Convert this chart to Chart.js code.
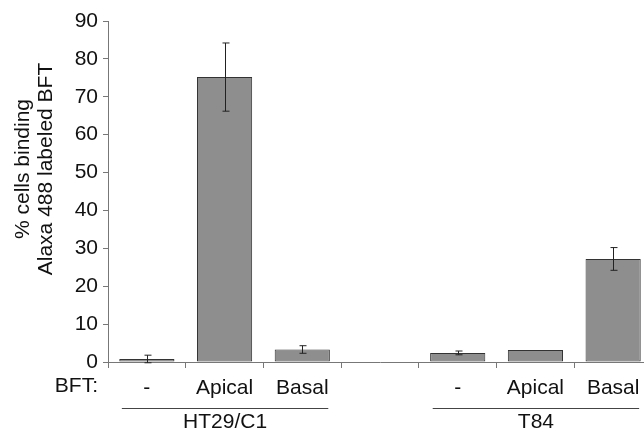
<!DOCTYPE html>
<html>
<head>
<meta charset="utf-8">
<script src="https://cdn.jsdelivr.net/npm/chart.js@4"></script>
<style>
  html, body { margin: 0; padding: 0; background: #fff; overflow: hidden; }
  #wrap { width: 660px; height: 430px; position: relative; }
</style>
</head>
<body>
<div id="wrap"><canvas id="chart"></canvas></div>
<script>
// Data
const categories = ['-', 'Apical', 'Basal', '', '-', 'Apical', 'Basal'];
const values = [0.8, 75.2, 3.3, null, 2.4, 3.2, 27.2];
const errors = [1.0, 9.0, 1.0, null, 0.5, 0, 3.0];
const yTicks = [0, 10, 20, 30, 40, 50, 60, 70, 80, 90];
const groups = [
    { name: 'HT29/C1', from: 0, to: 2 },
    { name: 'T84', from: 4, to: 6 }
];
const yTitle = ['% cells binding', 'Alaxa 488 labeled BFT'];

const FONT = 'Liberation Sans, Arial, Helvetica, sans-serif';
const AXIS = '#777';

// error bars drawn from the scales
const errorBars = {
    id: 'errorBars',
    afterDatasetsDraw(chart) {
        const ctx = chart.ctx;
        const y = chart.scales.y;
        const meta = chart.getDatasetMeta(0);
        ctx.save();
        ctx.strokeStyle = '#222';
        ctx.lineWidth = 1;
        values.forEach((v, i) => {
            const e = errors[i];
            if (v === null || !e) return;
            const x = Math.round(meta.data[i].x) + 0.5;
            const top = y.getPixelForValue(v + e);
            const bot = y.getPixelForValue(v - e);
            ctx.beginPath();
            ctx.moveTo(x, top);
            ctx.lineTo(x, bot);
            ctx.moveTo(x - 3, top);
            ctx.lineTo(x + 4, top);
            ctx.moveTo(x - 3, bot);
            ctx.lineTo(x + 4, bot);
            ctx.stroke();
        });
        ctx.restore();
    }
};

// y title, "BFT:" row label and the group labels under the axis
const extraText = {
    id: 'extraText',
    afterDraw(chart) {
        const ctx = chart.ctx;
        const x = chart.scales.x;
        ctx.save();
        ctx.fillStyle = '#111';
        ctx.font = '21px ' + FONT;

        // rotated y title
        ctx.save();
        ctx.translate(0, 169);
        ctx.rotate(-Math.PI / 2);
        ctx.textAlign = 'center';
        ctx.textBaseline = 'middle';
        ctx.fillText(yTitle[0], 0, 23);
        ctx.fillText(yTitle[1], 0, 46);
        ctx.restore();

        ctx.textAlign = 'right';
        ctx.textBaseline = 'middle';
        ctx.fillText('BFT:', 98, 386);

        ctx.strokeStyle = '#444';
        ctx.lineWidth = 1;
        groups.forEach(g => {
            const x0 = x.getPixelForValue(g.from) - 25;
            const x1 = x.getPixelForValue(g.to) + 26;
            ctx.beginPath();
            ctx.moveTo(x0, 408.5);
            ctx.lineTo(x1, 408.5);
            ctx.stroke();
            ctx.textAlign = 'center';
            ctx.fillText(g.name, (x0 + x1) / 2, 422);
        });
        ctx.restore();
    }
};

new Chart(document.getElementById('chart'), {
    type: 'bar',
    data: {
        labels: categories,
        datasets: [{
            data: values,
            backgroundColor: '#8e8e8e',
            borderColor: '#333',
            borderWidth: 1,
            borderSkipped: false,
            barPercentage: 0.71,
            categoryPercentage: 1
        }]
    },
    options: {
        responsive: true,
        maintainAspectRatio: false,
        animation: false,
        layout: { padding: { top: 21, right: 8, left: 0, bottom: 0 } },
        plugins: {
            legend: { display: false },
            tooltip: { enabled: false }
        },
        scales: {
            x: {
                grid: { drawOnChartArea: false, drawTicks: true, tickLength: 6, color: AXIS, offset: true },
                border: { color: AXIS, width: 1 },
                ticks: {
                    color: '#111',
                    font: { family: FONT, size: 21 },
                    padding: 8,
                    maxRotation: 0,
                    autoSkip: false
                },
                afterFit(scale) { scale.height = 68; }
            },
            y: {
                min: 0,
                max: 90,
                afterBuildTicks(scale) { scale.ticks = yTicks.map(v => ({ value: v })); },
                grid: { drawOnChartArea: false, drawTicks: true, tickLength: 5, color: AXIS },
                border: { color: AXIS, width: 1 },
                ticks: {
                    color: '#111',
                    font: { family: FONT, size: 21 },
                    padding: 5
                },
                afterFit(scale) { scale.width = 108; }
            }
        }
    },
    plugins: [errorBars, extraText]
});
</script>
</body>
</html>
